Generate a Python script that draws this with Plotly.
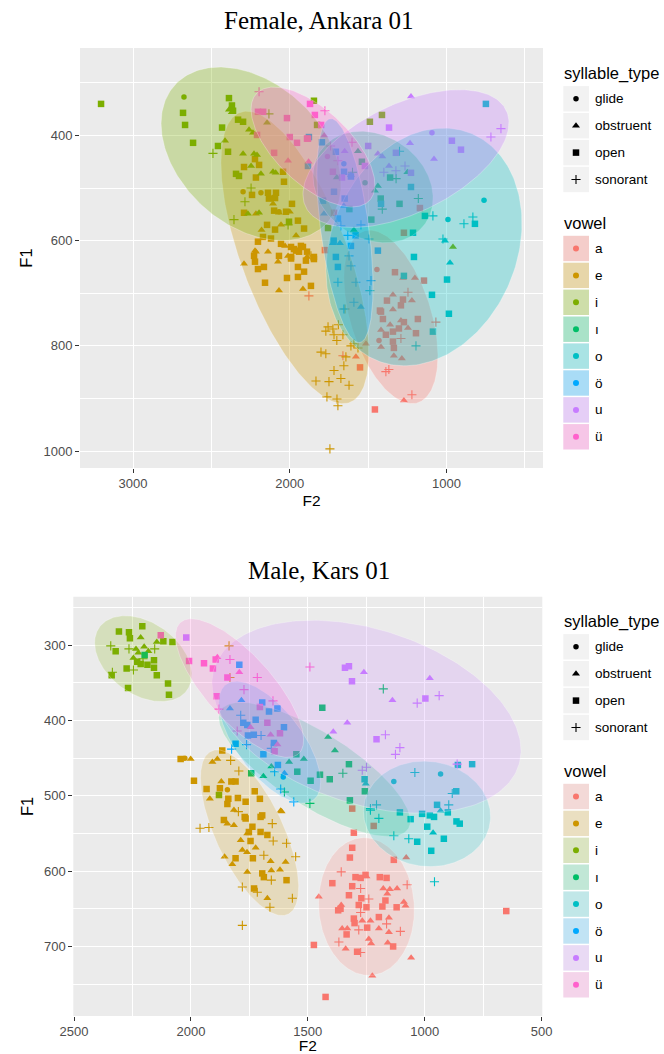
import numpy as np
import plotly.graph_objects as go

W, H = 664, 1054

# ---------------- categories / palette ----------------
VOWELS = ["a", "e", "i", "ı", "o", "ö", "u", "ü"]
VOWEL_COLORS = ["#F8766D", "#CD9600", "#7CAE00", "#00BE67",
                "#00BFC4", "#00A9FF", "#C77CFF", "#FF61CC"]
SYLLABLE_TYPES = ["glide", "obstruent", "open", "sonorant"]
TYPE_CODE = {"g": "glide", "b": "obstruent", "o": "open", "s": "sonorant"}

TITLES = ["Female, Ankara 01", "Male, Kars 01"]

# ---------------- Female, Ankara 01 : (F2, F1, syllable code) ----------------
FEM_A = [(1329, 660, "o"), (1144, 676, "o"), (1380, 714, "o"), (1278, 712, "o"), (1291, 723, "o"),
         (1418, 735, "o"), (1406, 749, "o"), (1272, 755, "o"), (1183, 749, "o"), (1304, 767, "o"),
         (1342, 773, "o"), (1195, 776, "o"), (1387, 779, "o"), (1342, 792, "o"), (1336, 804, "o"),
         (1552, 841, "o"), (1457, 921, "o"), (1170, 538, "o"), (1718, 547, "o"), (1272, 585, "o"),
         (1776, 618, "o"), (1425, 733, "o"),
         (1342, 703, "b"), (1278, 671, "b"), (1202, 671, "b"), (1221, 714, "b"), (1342, 731, "b"),
         (1291, 752, "b"), (1246, 766, "b"), (1418, 770, "b"), (1418, 802, "b"), (1336, 819, "b"),
         (1285, 824, "b"), (1578, 821, "b"), (1514, 796, "b"), (1272, 904, "b"), (1360, 760, "b"),
         (1444, 655, "g"), (1431, 790, "g"),
         (1246, 698, "s"), (1068, 755, "s"), (1291, 786, "s"), (1387, 849, "s"), (1368, 845, "s"),
         (1221, 893, "s"), (1661, 819, "s"), (1878, 705, "s")]
FEM_E = [(2222, 445, "o"), (2196, 456, "o"), (2292, 460, "o"), (2216, 480, "o"), (2043, 469, "o"),
         (2037, 488, "o"), (2241, 513, "o"), (2139, 509, "o"), (2088, 509, "o"), (2094, 519, "o"),
         (2133, 520, "o"), (1986, 530, "o"), (2100, 543, "o"), (2024, 545, "o"), (2292, 547, "o"),
         (1948, 562, "o"), (2145, 570, "o"), (2094, 579, "o"), (2171, 593, "o"), (2056, 606, "o"),
         (1929, 610, "o"), (1992, 612, "o"), (1941, 621, "o"), (1890, 621, "o"), (2203, 602, "o"),
         (2120, 596, "o"), (1973, 616, "o"), (1916, 612, "o"), (2228, 629, "o"), (2069, 629, "o"),
         (1992, 631, "o"), (2222, 640, "o"), (2158, 680, "o"), (2018, 671, "o"), (1948, 669, "o"),
         (1948, 650, "o"), (1909, 659, "o"), (2203, 654, "o"), (2165, 650, "o"), (1960, 619, "o"),
         (1992, 634, "o"), (1865, 686, "o"), (1846, 635, "o"), (1897, 638, "o"), (1909, 577, "o"),
         (1846, 631, "o"),
         (2107, 530, "b"), (2069, 547, "b"), (2216, 549, "b"), (2000, 545, "b"), (2056, 570, "b"),
         (2216, 621, "b"), (2139, 621, "b"), (2011, 629, "b"), (1890, 631, "b"), (2292, 644, "b"),
         (2069, 695, "b"), (1916, 692, "b"), (2075, 640, "b"), (2030, 610, "b"), (2222, 619, "b"),
         (2180, 580, "b"), (1960, 590, "b"),
         (2298, 507, "g"), (2184, 509, "g"), (2069, 545, "g"),
         (1756, 764, "s"), (1725, 768, "s"), (1770, 772, "s"), (1718, 779, "s"), (1661, 779, "s"),
         (1801, 812, "s"), (1770, 815, "s"), (1610, 800, "s"), (1591, 796, "s"), (1565, 804, "s"),
         (1642, 821, "s"), (1718, 847, "s"), (1674, 862, "s"), (1833, 867, "s"), (1750, 868, "s"),
         (1622, 875, "s"), (1763, 897, "s"), (1699, 901, "s"), (1693, 914, "s"), (1744, 996, "s"),
         (1655, 838, "s"), (1865, 629, "s"), (1648, 730, "s"), (1700, 790, "s"), (1690, 760, "s")]
FEM_I = [(3204, 340, "o"), (2388, 329, "o"), (2369, 343, "o"), (2362, 353, "o"), (2681, 357, "o"),
         (2668, 380, "o"), (2617, 414, "o"), (2458, 420, "o"), (2394, 431, "o"), (2432, 385, "o"),
         (2330, 370, "o"), (2298, 374, "o"), (2343, 473, "o"), (2324, 477, "o"), (2005, 564, "o"),
         (1846, 334, "o"), (1489, 374, "o"), (1412, 361, "o"), (1826, 380, "o"), (1756, 576, "o"),
         (2388, 351, "b"), (2370, 356, "b"), (2260, 389, "b"), (2235, 395, "b"), (2298, 435, "b"),
         (2228, 435, "b"), (2209, 437, "b"), (2247, 458, "b"), (2184, 473, "b"), (2107, 469, "b"),
         (2090, 471, "b"), (2413, 410, "b"), (2267, 549, "b"), (2196, 547, "b"), (959, 612, "b"),
         (2145, 376, "b"),
         (2675, 327, "g"),
         (2490, 434, "s"), (2286, 526, "s"), (2356, 560, "s"), (2011, 570, "s"), (2247, 500, "s"),
         (2133, 359, "s")]
FEM_IDOTLESS = [(1540, 450, "o"), (1420, 520, "o"), (1360, 480, "o"), (1620, 540, "o"),
                (1300, 530, "o"), (1480, 560, "o"),
                (1565, 430, "b"), (1438, 496, "b"), (1457, 505, "b"), (1591, 580, "b"),
                (1250, 470, "b"), (1700, 480, "b"),
                (1322, 482, "s"), (1410, 540, "s"), (1600, 470, "s"), (1180, 520, "s"),
                (1520, 490, "g")]
FEM_O = [(1227, 498, "o"), (1418, 530, "o"), (1138, 553, "o"), (819, 568, "o"), (1214, 585, "o"),
         (1208, 631, "o"), (1272, 667, "o"), (997, 674, "o"), (1093, 703, "o"), (985, 739, "o"),
         (1087, 773, "o"), (749, 340, "o"),
         (978, 642, "b"), (1010, 600, "b"),
         (761, 523, "g"), (991, 560, "g"),
         (1087, 553, "s"), (889, 568, "s"), (832, 555, "s"), (1023, 597, "s"), (1195, 800, "s"),
         (1489, 695, "s"), (1300, 430, "s")]
FEM_OUML = [(1706, 631, "o"), (1438, 619, "o"), (1693, 650, "o"), (1706, 431, "o"), (1654, 469, "o"),
            (1610, 478, "o"), (1718, 507, "o"), (1788, 524, "o"), (1693, 558, "o"), (1610, 610, "o"),
            (1884, 458, "o"), (1878, 403, "o"), (1795, 413, "o"), (1650, 520, "o"), (1580, 590, "o"),
            (1720, 600, "o"),
            (1546, 726, "b"), (1655, 534, "b"), (1610, 475, "b"), (1782, 549, "b"), (1725, 605, "b"),
            (1680, 605, "b"),
            (1655, 454, "g"),
            (1610, 648, "s"), (1578, 679, "s"), (1693, 679, "s"), (1482, 676, "s"), (1622, 629, "s"),
            (1591, 717, "s"), (1655, 730, "s"), (1674, 572, "s"), (1495, 597, "s"), (1546, 570, "s"),
            (1630, 590, "s")]
FEM_U = [(1367, 385, "o"), (966, 410, "o"), (908, 427, "o"), (1323, 433, "o"), (1227, 471, "o"),
         (1521, 458, "o"), (1500, 420, "o"), (1667, 480, "o"),
         (1227, 326, "b"), (1080, 445, "b"), (1233, 415, "b"), (1367, 458, "b"), (1438, 435, "b"),
         (1410, 440, "b"), (1650, 430, "b"),
         (1093, 395, "g"),
         (717, 403, "s"), (653, 387, "s"), (1265, 458, "s"), (1323, 467, "s"), (1400, 470, "s")]
FEM_UUML = [(2203, 355, "o"), (2018, 367, "o"), (2000, 403, "o"), (1954, 414, "o"), (2100, 433, "o"),
            (1884, 406, "o"), (2209, 399, "o"), (1871, 340, "o"), (1840, 361, "o"), (1890, 406, "o"),
            (1725, 469, "o"), (1800, 380, "o"), (2170, 355, "o"),
            (2011, 448, "b"), (1780, 400, "b"), (1880, 450, "b"),
            (1760, 440, "g"),
            (2196, 317, "s"), (1776, 353, "s"), (1603, 413, "s"), (1693, 448, "s"), (1740, 420, "s")]

# ellipse summaries (centre, half-extent along F2 and F1, correlation), vowel order
FEM_ELL_F2 = [1355, 1967, 2247, 1469, 1144, 1648, 1259, 1852]
FEM_ELL_F1 = [745, 632, 435, 498, 612, 581, 444, 422]
FEM_ELL_HF2 = [300, 472, 574, 383, 625, 179, 657, 395]
FEM_ELL_HF1 = [165, 278, 165, 106, 226, 213, 131, 114]
FEM_ELL_RHO = [-0.45, -0.65, -0.35, -0.2, 0.2, -0.5, 0.52, -0.63]

# ---------------- Male, Kars 01 ----------------
MAL_A = [(1310, 517, "o"), (1218, 540, "o"), (1303, 549, "o"), (1310, 569, "o"), (1320, 582, "o"),
         (1132, 585, "o"), (1395, 616, "o"), (1296, 608, "o"), (1274, 609, "o"), (1253, 605, "o"),
         (1192, 608, "o"), (1163, 609, "o"), (1310, 620, "o"), (1324, 632, "o"), (1271, 636, "o"),
         (1168, 639, "o"), (1360, 650, "o"), (1370, 652, "o"), (1282, 645, "o"), (1249, 648, "o"),
         (1181, 647, "o"), (1120, 648, "o"), (1303, 663, "o"), (1196, 661, "o"), (1300, 669, "o"),
         (1246, 675, "o"), (1334, 684, "o"), (1474, 698, "o"), (1135, 700, "o"), (1289, 707, "o"),
         (1424, 767, "o"), (651, 653, "o"),
         (1249, 607, "b"), (1453, 634, "b"), (1177, 623, "b"), (1149, 624, "b"), (1118, 623, "b"),
         (1357, 645, "b"), (1089, 641, "b"), (1082, 646, "b"), (1153, 662, "b"), (1353, 676, "b"),
         (1331, 676, "b"), (1267, 666, "b"), (1232, 666, "b"), (1196, 676, "b"), (1153, 681, "b"),
         (1239, 690, "b"), (1229, 696, "b"), (1158, 695, "b"), (1338, 703, "b"), (1058, 715, "b"),
         (1224, 739, "b"), (1079, 582, "b"), (1160, 630, "b"),
         (1357, 601, "s"), (1274, 623, "s"), (1239, 637, "s"), (1075, 618, "s"), (1274, 655, "s"),
         (1163, 670, "s"), (1282, 678, "s"), (1104, 680, "s"), (1367, 694, "s"), (1274, 708, "s")]
MAL_E = [(2044, 451, "o"), (1987, 480, "o"), (1933, 491, "o"), (1866, 440, "o"), (1827, 481, "o"),
         (1809, 481, "o"), (1876, 490, "o"), (1840, 504, "o"), (1844, 511, "o"), (1799, 503, "o"),
         (1766, 508, "o"), (1727, 494, "o"), (1705, 504, "o"), (1695, 526, "o"), (1770, 528, "o"),
         (1859, 532, "o"), (1766, 530, "o"), (1702, 528, "o"), (1702, 548, "o"), (1673, 552, "o"),
         (1737, 541, "o"), (1752, 548, "o"), (1809, 583, "o"), (1735, 583, "o"), (1695, 603, "o"),
         (1688, 608, "o"), (1591, 612, "o"), (1730, 623, "o"), (1745, 560, "o"),
         (2001, 451, "b"), (1908, 455, "b"), (1887, 451, "b"), (1919, 504, "b"), (1870, 481, "b"),
         (1816, 519, "b"), (1616, 520, "b"), (1844, 537, "b"), (1816, 539, "b"), (1787, 559, "b"),
         (1759, 550, "b"), (1780, 572, "b"), (1723, 569, "b"), (1856, 581, "b"), (1823, 591, "b"),
         (1759, 601, "b"), (1659, 587, "b"), (1595, 588, "b"), (1619, 598, "b"), (1673, 636, "b"),
         (1656, 599, "b"), (1612, 521, "b"), (1760, 575, "b"),
         (2026, 450, "g"), (1844, 492, "g"),
         (1830, 453, "s"), (1795, 467, "s"), (1961, 543, "s"), (1923, 542, "s"), (1797, 521, "s"),
         (1652, 537, "s"), (1648, 560, "s"), (1591, 563, "s"), (1552, 581, "s"), (1780, 621, "s"),
         (1716, 628, "s"), (1656, 612, "s"), (1662, 648, "s"), (1566, 636, "s"), (1780, 672, "s"),
         (1688, 579, "s"), (1837, 301, "s"), (1833, 343, "s")]
MAL_I = [(2308, 282, "o"), (2265, 283, "o"), (2208, 275, "o"), (2261, 291, "o"), (2322, 308, "o"),
         (2118, 295, "o"), (2079, 296, "o"), (2275, 331, "o"), (2158, 320, "o"), (2158, 330, "o"),
         (2186, 326, "o"), (2146, 340, "o"), (2339, 340, "o"), (2098, 351, "o"), (2094, 366, "o"),
         (2269, 357, "o"), (2215, 325, "o"), (2230, 322, "o"), (1880, 499, "o"),
         (2215, 290, "b"), (2146, 296, "b"), (2182, 308, "b"), (2235, 305, "b"), (2246, 317, "b"),
         (2225, 310, "b"), (2200, 302, "b"),
         (2343, 301, "s"), (2265, 305, "s"), (2155, 305, "s"), (2246, 333, "s"), (2336, 336, "s"),
         (2205, 318, "s")]
MAL_IDOTLESS = [(2198, 313, "o"), (1438, 383, "o"), (1549, 445, "o"), (1545, 468, "o"), (1488, 480, "o"),
                (1448, 472, "o"), (1406, 478, "o"), (1324, 458, "o"), (1256, 494, "o"), (1320, 506, "o"),
                (1742, 470, "o"),
                (1413, 422, "b"), (1384, 440, "b"), (1517, 451, "b"), (1656, 461, "b"), (1690, 474, "b"),
                (1580, 455, "b"),
                (1177, 358, "s"), (1491, 510, "s"), (1600, 495, "s"), (1350, 470, "s")]
MAL_O = [(1106, 522, "o"), (1060, 531, "o"), (1011, 524, "o"), (978, 526, "o"), (960, 528, "o"),
         (947, 512, "o"), (901, 522, "o"), (864, 534, "o"), (850, 537, "o"), (989, 541, "o"),
         (918, 557, "o"), (1032, 561, "o"), (972, 573, "o"), (797, 458, "o"), (865, 494, "o"),
         (858, 459, "o"), (1257, 478, "o"),
         (1252, 484, "b"), (932, 520, "b"), (964, 549, "b"),
         (1132, 481, "g"), (932, 471, "g"),
         (1042, 469, "s"), (882, 497, "s"), (897, 512, "s"), (1232, 517, "s"), (1206, 512, "s"),
         (1196, 530, "s"), (1132, 553, "s"), (1068, 557, "s"), (958, 614, "s"), (1232, 519, "s")]
MAL_OUML = [(1793, 326, "o"), (1695, 376, "o"), (1666, 388, "o"), (1630, 384, "o"), (1776, 403, "o"),
            (1759, 406, "o"), (1723, 399, "o"), (1731, 419, "o"), (1756, 420, "o"), (1645, 430, "o"),
            (1602, 409, "o"), (1809, 431, "o"), (1690, 445, "o"), (1628, 459, "o"),
            (1784, 373, "b"), (1833, 384, "b"), (1600, 470, "b"),
            (1605, 475, "g"),
            (1787, 393, "s"), (1826, 438, "s"), (1762, 432, "s"), (1656, 437, "s"), (1642, 468, "s"),
            (1616, 491, "s"), (1560, 508, "s"), (1700, 420, "s")]
MAL_U = [(1341, 330, "o"), (1324, 328, "o"), (1311, 348, "o"), (997, 371, "o"), (1206, 425, "o"),
         (2020, 290, "o"),
         (1260, 336, "b"), (978, 344, "b"), (1138, 373, "b"), (1331, 403, "b"), (1391, 415, "b"),
         (1032, 377, "s"), (938, 367, "s"), (1168, 419, "s"), (1106, 436, "s"), (1125, 445, "s"),
         (1267, 466, "s"), (1249, 462, "s"), (861, 458, "s")]
MAL_UUML = [(2129, 287, "o"), (2008, 321, "o"), (1944, 324, "o"), (1906, 331, "o"), (1894, 319, "o"),
            (1890, 368, "o"), (1844, 343, "o"), (1673, 403, "o"), (1619, 417, "o"), (1642, 441, "o"),
            (1705, 382, "o"),
            (1887, 316, "b"), (1793, 336, "b"), (1745, 409, "b"), (1659, 419, "b"), (1630, 432, "b"),
            (1833, 319, "s"), (1716, 343, "s"), (1773, 359, "s"), (1880, 385, "s"), (1802, 414, "s"),
            (1649, 374, "s"), (1491, 329, "s")]

MAL_ELL_F2 = [1249, 1749, 2204, 1471, 990, 1663, 1249, 1792]
MAL_ELL_F1 = [647, 549, 318, 465, 524, 429, 395, 357]
MAL_ELL_HF2 = [205, 210, 208, 410, 272, 218, 661, 274]
MAL_ELL_HF1 = [91.5, 110, 57, 89, 70, 81, 128, 92]
MAL_ELL_RHO = [-0.05, -0.66, -0.37, -0.77, -0.05, -0.65, -0.35, -0.75]

FEM_POINTS = [FEM_A, FEM_E, FEM_I, FEM_IDOTLESS, FEM_O, FEM_OUML, FEM_U, FEM_UUML]
MAL_POINTS = [MAL_A, MAL_E, MAL_I, MAL_IDOTLESS, MAL_O, MAL_OUML, MAL_U, MAL_UUML]

# ---------------- styling ----------------
SYMBOL = {"glide": "circle", "obstruent": "triangle-up", "open": "square", "sonorant": "cross-thin"}
MSIZE = {"glide": 5.5, "obstruent": 7, "open": 6.5, "sonorant": 6.5}
SANS = "Liberation Sans, Arial, Helvetica, sans-serif"
SERIF = "Liberation Serif, Times New Roman, serif"

# panel pixel boxes: left, right, top, bottom
PANELS = [dict(px=(80, 543, 48, 468), xt=(1000, 500), yt=(200, 100), alpha=0.30, legend_off=0,
               title_y=20.5),
          dict(px=(73.3, 542.3, 596.7, 1016), xt=(500, 250), yt=(100, 50), alpha=0.20, legend_off=548,
               title_y=570)]


def rgba(hexcol, a):
    h = hexcol.lstrip("#")
    return "rgba(%d,%d,%d,%.3f)" % (int(h[0:2], 16), int(h[2:4], 16), int(h[4:6], 16), a)


def ellipse(cx, cy, hx, hy, rho, n=241):
    t = np.linspace(0, 2 * np.pi, n)
    phi = np.arccos(np.clip(rho, -1, 1))
    return cx + hx * np.cos(t), cy + hy * np.cos(t - phi)


fig = go.Figure()
shapes = []
annotations = []

datasets = [
    (FEM_POINTS, FEM_ELL_F2, FEM_ELL_F1, FEM_ELL_HF2, FEM_ELL_HF1, FEM_ELL_RHO),
    (MAL_POINTS, MAL_ELL_F2, MAL_ELL_F1, MAL_ELL_HF2, MAL_ELL_HF1, MAL_ELL_RHO),
]

layout_axes = {}
for p, (pts, ecx, ecy, ehx, ehy, erho) in enumerate(datasets):
    cfg = PANELS[p]
    xa = "x" if p == 0 else "x2"
    ya = "y" if p == 0 else "y2"
    # points first (ellipses are layered on top, as in the original)
    all_x, all_y = [], []
    for vi, vlist in enumerate(pts):
        col = VOWEL_COLORS[vi]
        for st in SYLLABLE_TYPES:
            sel = [(f2, f1) for (f2, f1, c) in vlist if TYPE_CODE[c] == st]
            if not sel:
                continue
            xs = [s[0] for s in sel]
            ys = [s[1] for s in sel]
            all_x += xs
            all_y += ys
            mk = dict(symbol=SYMBOL[st], size=MSIZE[st], color=col)
            if st == "sonorant":
                mk["line"] = dict(color=col, width=1.1)
            else:
                mk["line"] = dict(width=0)
            fig.add_trace(go.Scatter(x=xs, y=ys, mode="markers", marker=mk,
                                     xaxis=xa, yaxis=ya, showlegend=False,
                                     name="%s / %s" % (VOWELS[vi], st)))
    for vi in range(len(VOWELS)):
        ex, ey = ellipse(ecx[vi], ecy[vi], ehx[vi], ehy[vi], erho[vi])
        all_x += [ex.min(), ex.max()]
        all_y += [ey.min(), ey.max()]
        fig.add_trace(go.Scatter(x=ex, y=ey, mode="lines", fill="toself",
                                 fillcolor=rgba(VOWEL_COLORS[vi], cfg["alpha"]),
                                 line=dict(color="rgba(255,255,255,0.35)", width=0.8),
                                 xaxis=xa, yaxis=ya, showlegend=False, hoverinfo="skip",
                                 name="ellipse " + VOWELS[vi]))
    # ggplot-like 5% expansion
    x0, x1 = min(all_x), max(all_x)
    y0, y1 = min(all_y), max(all_y)
    dx, dy = 0.05 * (x1 - x0), 0.05 * (y1 - y0)
    l, r, t, b = cfg["px"]
    common = dict(showgrid=True, gridcolor="white", gridwidth=1.2, zeroline=False, showline=False,
                  ticks="outside", ticklen=4, tickwidth=1.1, tickcolor="#333333",
                  tickfont=dict(family=SANS, size=13, color="#4D4D4D"), tickmode="linear", tick0=0)
    layout_axes["xaxis" if p == 0 else "xaxis2"] = dict(
        common, domain=[l / W, r / W], range=[x1 + dx, x0 - dx], anchor=ya,
        dtick=cfg["xt"][0], ticklabelstandoff=-1,
        minor=dict(dtick=cfg["xt"][1], showgrid=True, gridcolor="white", gridwidth=0.6, ticks=""),
        title=dict(text="F2", font=dict(family=SANS, size=15.5, color="black"), standoff=5))
    layout_axes["yaxis" if p == 0 else "yaxis2"] = dict(
        common, domain=[1 - b / H, 1 - t / H], range=[y1 + dy, y0 - dy], anchor=xa,
        dtick=cfg["yt"][0],
        minor=dict(dtick=cfg["yt"][1], showgrid=True, gridcolor="white", gridwidth=0.6, ticks=""),
        title=dict(text="F1", font=dict(family=SANS, size=16.5, color="black"), standoff=6))
    # panel background
    shapes.append(dict(type="rect", xref=xa + " domain", yref=ya + " domain", x0=0, x1=1, y0=0, y1=1,
                       fillcolor="#EBEBEB", line=dict(width=0), layer="below"))
    # title
    annotations.append(dict(text=TITLES[p], xref="x3", yref="y3", x=319, y=cfg["title_y"],
                            xanchor="center", yanchor="middle", showarrow=False,
                            font=dict(family=SERIF, size=25, color="black")))

    # ------------- manual legends (ggplot style) -------------
    off = cfg["legend_off"]
    key_l, key_r, key_cx, txt_x = 563.3, 589, 576, 593
    step = 26.9
    annotations.append(dict(text="syllable_type", xref="x3", yref="y3", x=561.5, y=73.3 + off,
                            xanchor="left", yanchor="middle", showarrow=False,
                            font=dict(family=SANS, size=16.5, color="black")))
    for k, st in enumerate(SYLLABLE_TYPES):
        cy = 98.8 + k * step + off
        shapes.append(dict(type="rect", xref="x3", yref="y3", x0=key_l, x1=key_r,
                           y0=cy - 12.7, y1=cy + 12.7, fillcolor="#F2F2F2", line=dict(width=0),
                           layer="below"))
        mk = dict(symbol=SYMBOL[st], size=MSIZE[st], color="black")
        mk["line"] = dict(color="black", width=1.1) if st == "sonorant" else dict(width=0)
        fig.add_trace(go.Scatter(x=[key_cx], y=[cy], mode="markers", marker=mk, xaxis="x3", yaxis="y3",
                                 showlegend=False, hoverinfo="skip", name="key " + st))
        annotations.append(dict(text=st, xref="x3", yref="y3", x=txt_x, y=cy, xanchor="left",
                                yanchor="middle", showarrow=False,
                                font=dict(family=SANS, size=13.5, color="black")))
    annotations.append(dict(text="vowel", xref="x3", yref="y3", x=561.5, y=223.3 + off,
                            xanchor="left", yanchor="middle", showarrow=False,
                            font=dict(family=SANS, size=16.5, color="black")))
    for k, v in enumerate(VOWELS):
        cy = 248.5 + k * step + off
        shapes.append(dict(type="rect", xref="x3", yref="y3", x0=key_l, x1=key_r,
                           y0=cy - 12.7, y1=cy + 12.7, fillcolor="#F2F2F2", line=dict(width=0),
                           layer="below"))
        shapes.append(dict(type="rect", xref="x3", yref="y3", x0=key_l, x1=key_r,
                           y0=cy - 12.7, y1=cy + 12.7, fillcolor=rgba(VOWEL_COLORS[k], cfg["alpha"]),
                           line=dict(width=0), layer="below"))
        fig.add_trace(go.Scatter(x=[key_cx], y=[cy], mode="markers",
                                 marker=dict(symbol="circle", size=6, color=VOWEL_COLORS[k],
                                             line=dict(width=0)),
                                 xaxis="x3", yaxis="y3", showlegend=False, hoverinfo="skip",
                                 name="key " + v))
        annotations.append(dict(text=v, xref="x3", yref="y3", x=txt_x, y=cy, xanchor="left",
                                yanchor="middle", showarrow=False,
                                font=dict(family=SANS, size=13.5, color="black")))

layout_axes["xaxis3"] = dict(domain=[0, 1], range=[0, W], visible=False, anchor="y3", fixedrange=True)
layout_axes["yaxis3"] = dict(domain=[0, 1], range=[H, 0], visible=False, anchor="x3", fixedrange=True)

fig.update_layout(width=W, height=H, margin=dict(l=0, r=0, t=0, b=0, pad=0, autoexpand=False),
                  paper_bgcolor="white", plot_bgcolor="rgba(0,0,0,0)", showlegend=False,
                  shapes=shapes, annotations=annotations, **layout_axes)

fig.write_html("out.html")
